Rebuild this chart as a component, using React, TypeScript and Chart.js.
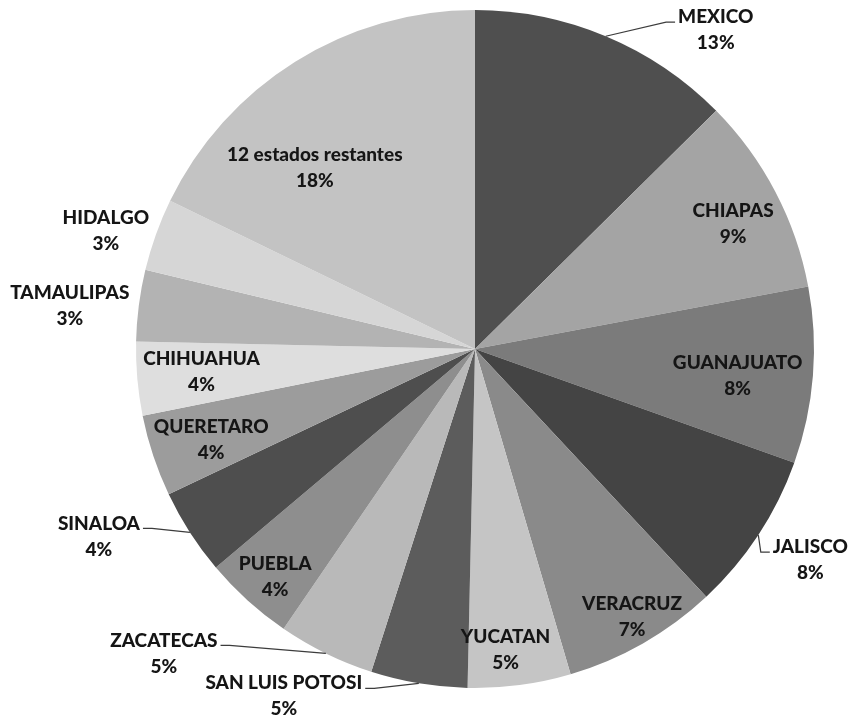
import React, { useEffect, useRef } from "react";
import { Chart, registerables } from "chart.js";

Chart.register(...registerables);

const categories = [
  "MEXICO",
  "CHIAPAS",
  "GUANAJUATO",
  "JALISCO",
  "VERACRUZ",
  "YUCATAN",
  "SAN LUIS POTOSI",
  "ZACATECAS",
  "PUEBLA",
  "SINALOA",
  "QUERETARO",
  "CHIHUAHUA",
  "TAMAULIPAS",
  "HIDALGO",
  "12 estados restantes",
];

const shares = [12.6, 9.45, 8.4, 7.6, 7.4, 4.9, 4.6, 4.6, 4.3, 4.1, 3.9, 3.5, 3.4, 3.45, 17.8];

const sliceColors = [
  "#4f4f4f",
  "#a4a4a4",
  "#7b7b7b",
  "#444444",
  "#8a8a8a",
  "#c5c5c5",
  "#5c5c5c",
  "#b9b9b9",
  "#8e8e8e",
  "#4e4e4e",
  "#9c9c9c",
  "#dedede",
  "#b3b3b3",
  "#d6d6d6",
  "#c3c3c3",
];

// label placement style: radial factor of the outer radius, plus pixel offsets
const labelRadius = [1, 0.846, 0.777, 1, 0.911, 0.886, 1, 1, 0.892, 1, 0.823, 0.81, 1, 1, 0.713];
const labelDx = [110, 4, 0, 52, 4, -9, -135, -162, 3, -91, 1, 0, -69, -50, -32];
const labelDy = [-6, 8, 6, 25, 0, 3, 13, 0, 4, 4, 3, -1, 0, -4, 24];
const labelLeader = [true, false, false, true, false, false, true, true, false, true, false, false, false, false, false];

const FONT = "900 19px Lato";
const LINE_H = 26;

const labelPlugin = {
  id: "pieLabels",
  afterDatasetsDraw(chart: any) {
    const ctx = chart.ctx;
    const meta = chart.getDatasetMeta(0);
    const data = chart.data.datasets[0].data as number[];
    const total = data.reduce((a, b) => a + b, 0);
    ctx.save();
    ctx.font = FONT;
    ctx.textAlign = "center";
    ctx.textBaseline = "middle";
    meta.data.forEach((arc: any, i: number) => {
      const p = arc.getProps(["x", "y", "startAngle", "endAngle", "outerRadius"], true);
      const mid = (p.startAngle + p.endAngle) / 2;
      const r = p.outerRadius * labelRadius[i];
      const cx = p.x + Math.cos(mid) * r + labelDx[i];
      const cy = p.y + Math.sin(mid) * r + labelDy[i];
      const name = chart.data.labels[i] as string;
      const pct = Math.round((data[i] / total) * 100) + "%";
      const y1 = cy - LINE_H / 2;
      const y2 = cy + LINE_H / 2;

      if (labelLeader[i]) {
        const ex = p.x + Math.cos(mid) * p.outerRadius;
        const ey = p.y + Math.sin(mid) * p.outerRadius;
        const w = ctx.measureText(name).width;
        const sign = cx > ex ? 1 : -1;
        const sideX = cx - sign * (w / 2 + 3);
        const ly = y1 + 5;
        ctx.strokeStyle = "#3c3c3c";
        ctx.lineWidth = 1.2;
        ctx.beginPath();
        ctx.moveTo(ex, ey);
        ctx.lineTo(sideX - sign * 9, ly);
        ctx.lineTo(sideX, ly);
        ctx.stroke();
      }

      ctx.fillStyle = "#151515";
      ctx.fillText(name, cx, y1);
      ctx.fillText(pct, cx, y2);
    });
    ctx.restore();
  },
};

export default function App() {
  const canvasRef = useRef<HTMLCanvasElement | null>(null);

  useEffect(() => {
    if (!canvasRef.current) return;
    const chart = new Chart(canvasRef.current, {
      type: "pie",
      data: {
        labels: categories,
        datasets: [
          {
            data: shares,
            backgroundColor: sliceColors,
            borderWidth: 0,
          },
        ],
      },
      options: {
        responsive: false,
        animation: false,
        layout: { padding: { top: 10, bottom: 33, left: 136, right: 38 } },
        plugins: {
          legend: { display: false },
          tooltip: { enabled: false },
        },
      },
      plugins: [labelPlugin],
    });
    return () => chart.destroy();
  }, []);

  return (
    <div style={{ position: "absolute", left: 0, top: 0, width: 852, height: 721, background: "#ffffff" }}>
      <canvas ref={canvasRef} width={852} height={721} style={{ display: "block", width: 852, height: 721 }} />
    </div>
  );
}
